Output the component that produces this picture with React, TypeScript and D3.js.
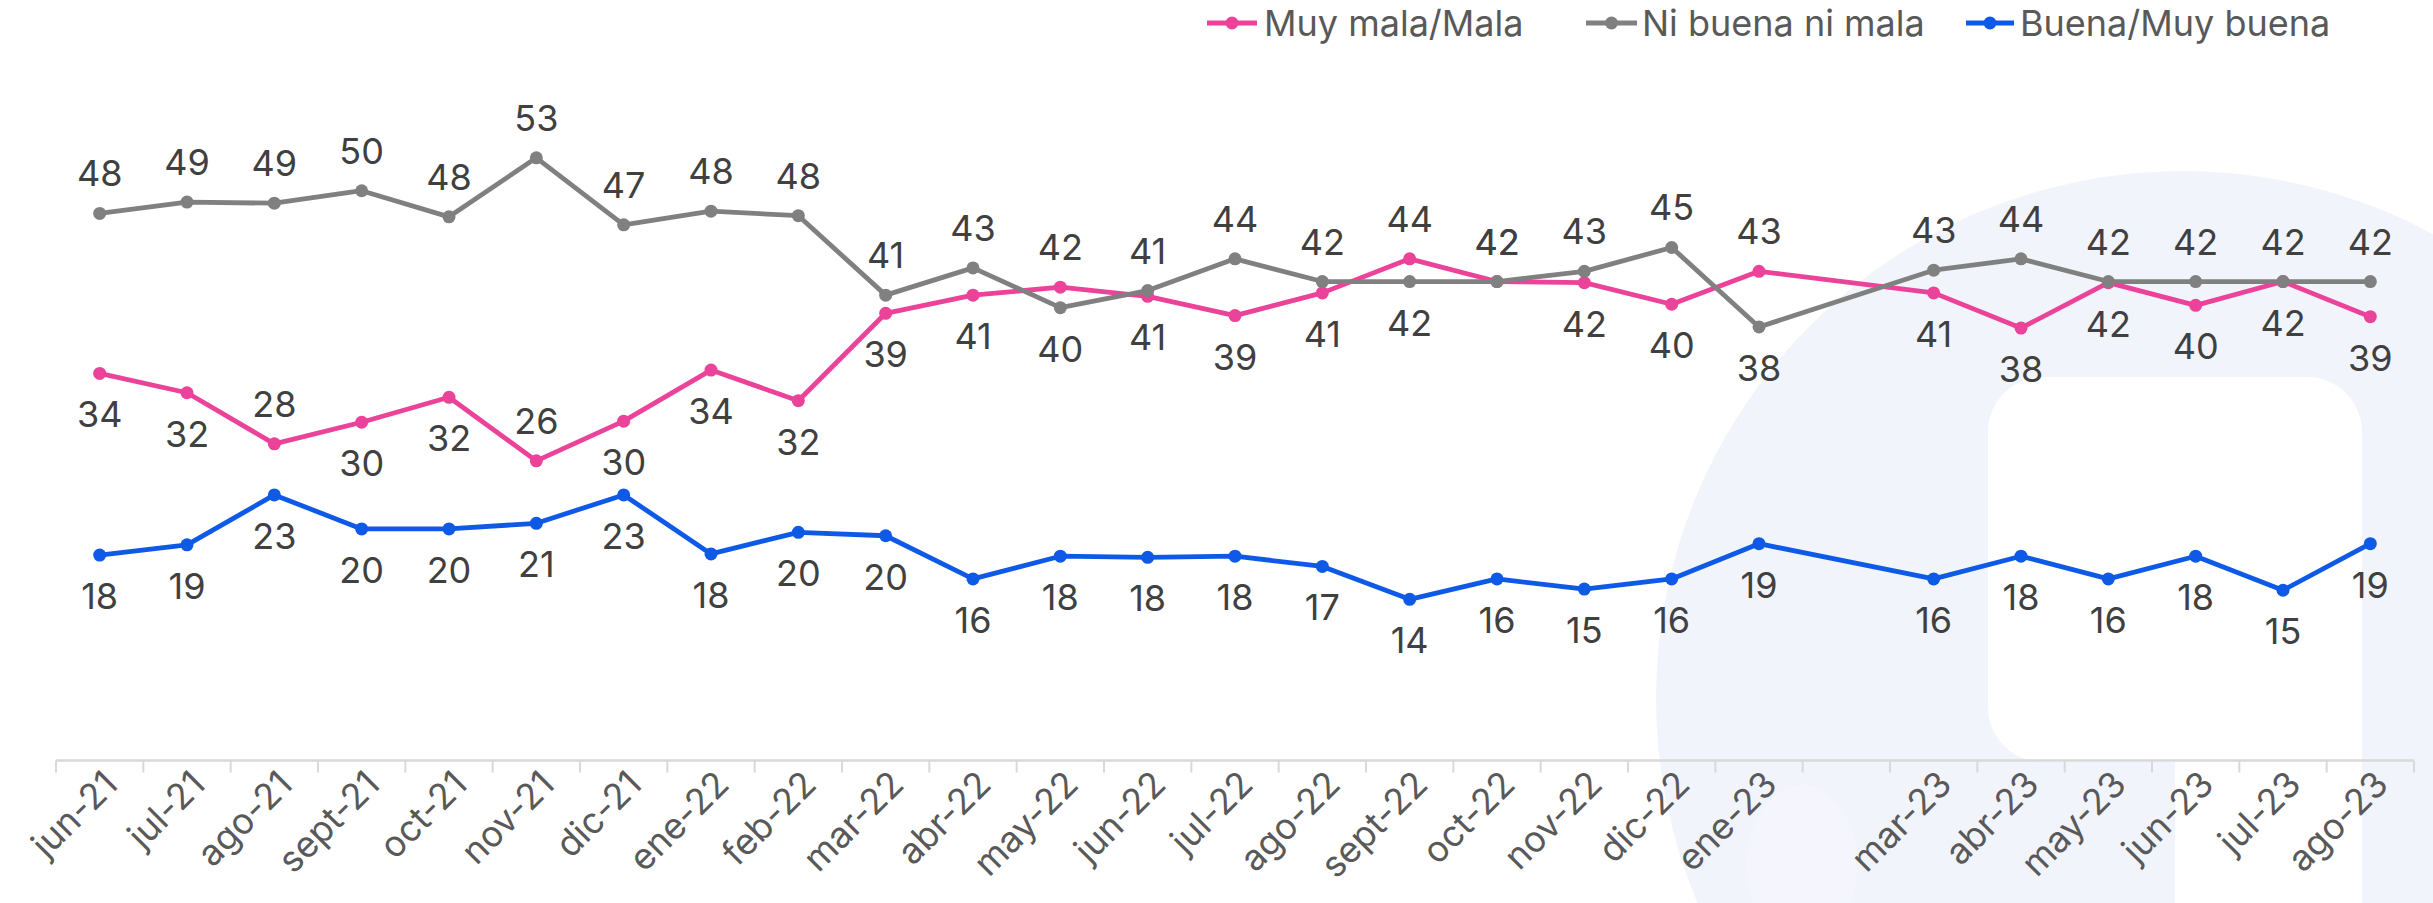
import React from "react";
import * as d3 from "d3";

const categories = ["jun-21","jul-21","ago-21","sept-21","oct-21","nov-21","dic-21","ene-22","feb-22","mar-22","abr-22","may-22","jun-22","jul-22","ago-22","sept-22","oct-22","nov-22","dic-22","ene-23","feb-23","mar-23","abr-23","may-23","jun-23","jul-23","ago-23"];
const tickLabels = ["jun-21","jul-21","ago-21","sept-21","oct-21","nov-21","dic-21","ene-22","feb-22","mar-22","abr-22","may-22","jun-22","jul-22","ago-22","sept-22","oct-22","nov-22","dic-22","ene-23","","mar-23","abr-23","may-23","jun-23","jul-23","ago-23"];

const muyMala: (number | null)[] = [34.1, 32.4, 27.9, 29.8, 32.0, 26.4, 29.9, 34.4, 31.7, 39.4, 41.0, 41.7, 40.9, 39.2, 41.2, 44.2, 42.2, 42.1, 40.2, 43.1, null, 41.2, 38.1, 42.1, 40.1, 42.2, 39.1];
const niBuena: (number | null)[] = [48.2, 49.2, 49.1, 50.2, 47.9, 53.1, 47.2, 48.4, 48.0, 41.0, 43.4, 39.9, 41.4, 44.2, 42.2, 42.2, 42.2, 43.1, 45.2, 38.2, null, 43.2, 44.2, 42.2, 42.2, 42.2, 42.2];
const buena: (number | null)[] = [18.1, 19.0, 23.4, 20.4, 20.4, 20.9, 23.4, 18.2, 20.1, 19.8, 16.0, 18.0, 17.9, 18.0, 17.1, 14.2, 16.0, 15.1, 16.0, 19.1, null, 16.0, 18.0, 16.0, 18.0, 15.0, 19.1];

// label placement: a = above, b = below
const placeMala = "bbabbabbbbbabbbaabbaxbbbbbb";
const placeNi = "aaaaaaaaaaabaaabaaabxaaaaaa";
const placeBuena = "bbbbbbbbbbbbbbbbbbbbxbbbbbb";

const seriesNames = ["Muy mala/Mala", "Ni buena ni mala", "Buena/Muy buena"];
const seriesColors = ["#EA4399", "#808080", "#0E5AE6"];

const W = 2433;
const H = 903;
const FONT = "Inter, 'Noto Sans', sans-serif";

export default function App() {
  const x = d3.scaleBand<string>().domain(categories).range([56, 2414]).padding(0);
  const y = d3.scaleLinear().domain([0, 60]).range([760.5, 79.5]);
  const bw = x.bandwidth();
  const cx = (c: string) => (x(c) as number) + bw / 2;

  const series = [
    { name: seriesNames[0], color: seriesColors[0], values: muyMala, place: placeMala },
    { name: seriesNames[1], color: seriesColors[1], values: niBuena, place: placeNi },
    { name: seriesNames[2], color: seriesColors[2], values: buena, place: placeBuena },
  ];

  const line = d3
    .line<{ c: string; v: number }>()
    .x((d) => cx(d.c))
    .y((d) => y(d.v));

  const y0 = y(0);
  const tickXs = d3.range(categories.length + 1).map((i) => x.range()[0] + i * bw);

  const legendItems = [
    { lx1: 1207, lx2: 1257, tx: 1264 },
    { lx1: 1586, lx2: 1637, tx: 1642 },
    { lx1: 1966, lx2: 2014, tx: 2020 },
  ];

  return (
    <svg
      width={W}
      height={H}
      style={{ position: "absolute", left: 0, top: 0, display: "block", background: "#fff" }}
      fontFamily={FONT}
    >
      {/* background decoration */}
      <g>
        <circle cx={2183} cy={698} r={527} fill="#F2F4FC" />
        <ellipse cx={1802} cy={865} rx={55} ry={80} fill="#F5F6FD" />
        <rect x={1988} y={377} width={374} height={385} rx={55} fill="#fff" />
        <rect x={2175} y={700} width={187} height={260} fill="#fff" />
      </g>

      {/* x axis */}
      <line x1={x.range()[0]} x2={x.range()[1]} y1={y0} y2={y0} stroke="#D9D9D9" strokeWidth={2.5} />
      {tickXs.map((tx, i) => (
        <line key={i} x1={tx} x2={tx} y1={y0} y2={y0 + 12} stroke="#D9D9D9" strokeWidth={2} />
      ))}
      {categories.map((c, i) => (
        <text
          key={c}
          transform={`translate(${cx(c) + 20},${y0 + 26}) rotate(-45)`}
          textAnchor="end"
          fontSize={36}
          fill="#595959"
        >
          {tickLabels[i]}
        </text>
      ))}

      {/* lines */}
      {series.map((s) => {
        const pts = categories
          .map((c, i) => ({ c, v: s.values[i] }))
          .filter((d) => d.v !== null) as { c: string; v: number }[];
        return (
          <g key={s.name}>
            <path d={line(pts) || ""} fill="none" stroke={s.color} strokeWidth={4.8} strokeLinejoin="round" />
            {pts.map((d) => (
              <circle key={d.c} cx={cx(d.c)} cy={y(d.v)} r={6.5} fill={s.color} />
            ))}
          </g>
        );
      })}

      {/* data labels */}
      {series.map((s) => (
        <g key={s.name + "-lbl"}>
          {categories.map((c, i) => {
            const v = s.values[i];
            if (v === null) return null;
            const above = s.place[i] === "a";
            return (
              <text
                key={c}
                x={cx(c)}
                y={above ? y(v) - 27 : y(v) + 54}
                textAnchor="middle"
                fontSize={36}
                fill="#404040"
              >
                {Math.round(v)}
              </text>
            );
          })}
        </g>
      ))}

      {/* legend */}
      {series.map((s, i) => {
        const L = legendItems[i];
        return (
          <g key={s.name + "-leg"}>
            <line x1={L.lx1} x2={L.lx2} y1={23} y2={23} stroke={s.color} strokeWidth={5} />
            <circle cx={(L.lx1 + L.lx2) / 2} cy={23} r={6.5} fill={s.color} />
            <text x={L.tx} y={36} fontSize={36} fill="#595959">
              {s.name}
            </text>
          </g>
        );
      })}
    </svg>
  );
}
